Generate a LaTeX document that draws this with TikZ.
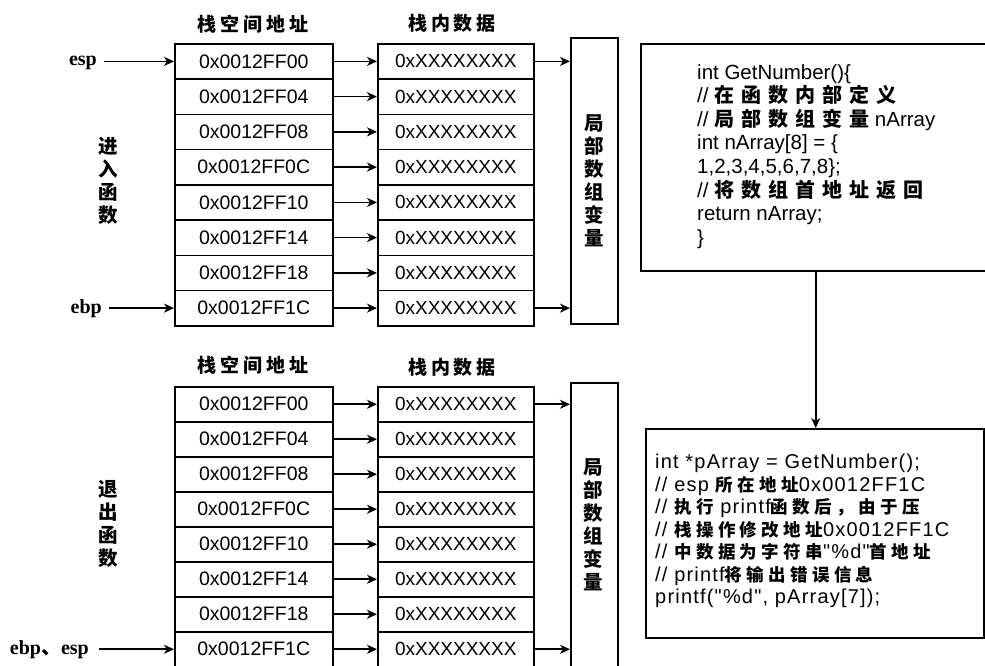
\documentclass[tikz,border=0pt]{standalone}
\usepackage{fontspec}
\setmainfont{Liberation Sans}
\newfontfamily\serifb{Liberation Serif}
\newfontfamily\latL[LetterSpace=6]{Liberation Sans}
\newfontfamily\zhH[LetterSpace=20]{Noto Sans CJK SC}
\newfontfamily\zhT[LetterSpace=35]{Noto Sans CJK SC}
\newfontfamily\zhL[LetterSpace=25]{Noto Sans CJK SC}
\newfontfamily\zhV{Noto Sans CJK SC}
\usetikzlibrary{arrows.meta}
\newcommand{\ZhTop}[1]{{\zhT\bfseries\fontsize{20}{23.6}\selectfont #1}}
\newcommand{\ZhLow}[1]{{\zhL\bfseries\fontsize{17.5}{22.5}\selectfont #1}}
\newcommand{\dq}{\symbol{34}}
\begin{document}
\begin{tikzpicture}[x=1pt,y=-1pt,
  box/.style={draw, line width=1.5pt, inner sep=0pt, anchor=north west},
  acell/.style={box, minimum width=158pt, font=\fontsize{19.5}{22}\selectfont},
  dcell/.style={box, minimum width=156pt, font=\fontsize{19}{22}\selectfont},
  arr/.style={-{Stealth[length=10pt,width=9pt,inset=3pt]}, line width=1.7pt},
  head/.style={font=\zhH\bfseries\fontsize{19}{22}\selectfont, inner sep=0pt},
  vlab/.style={align=center, inner sep=0pt, font=\zhV\bfseries\fontsize{19.5}{23}\selectfont},
  reg/.style={inner sep=0pt, font=\serifb\bfseries\fontsize{20}{22}\selectfont},
  code/.style={align=left, inner sep=0pt, anchor=north west}]
\useasboundingbox (0,0) rectangle (985,665);
\clip (0,0) rectangle (985,665);
\fill[white] (0,0) rectangle (985,665);

% ---------- top stack ----------
\node[head] (thA) at (253,24) {栈空间地址};
\node[head] (thD) at (452,23) {栈内数据};
\foreach \i/\t in {1/00,2/04,3/08,4/0C,5/10,6/14,7/18,8/1C}{
  \node[acell, minimum height=35.25pt] (ta\i) at (174,{43+(\i-1)*35.25}) {0x0012FF\t};
  \node[dcell, minimum height=35.25pt] (td\i) at (377,{43+(\i-1)*35.25}) {0xXXXXXXXX};
  \draw[arr] (ta\i) -- (td\i);
}
\node[box, minimum width=47pt, minimum height=286pt] (tl) at (570,37) {};
\node[vlab] (tlt) at (tl.center) {局\\部\\数\\组\\变\\量};
\draw[arr] (td1.east) -- (td1.east -| tl.west);
\draw[arr] (td8.east) -- (td8.east -| tl.west);
\node[vlab] (enter) at (108,181) {进\\入\\函\\数};
\node[reg, anchor=east] (esp) at (97,63) {esp};
\node[reg, anchor=east] (ebp) at (102,309) {ebp};
\draw[arr, shorten <=7pt] (esp.east |- ta1.west) -- (ta1.west);
\draw[arr, shorten <=7pt] (ebp.east |- ta8.west) -- (ta8.west);

% ---------- bottom stack ----------
\node[head] (bhA) at (253,365) {栈空间地址};
\node[head] (bhD) at (452,367) {栈内数据};
\foreach \i/\t in {1/00,2/04,3/08,4/0C,5/10,6/14,7/18,8/1C}{
  \node[acell, minimum height=35pt] (ba\i) at (174,{386+(\i-1)*35}) {0x0012FF\t};
  \node[dcell, minimum height=35pt] (bd\i) at (377,{386+(\i-1)*35}) {0xXXXXXXXX};
  \draw[arr] (ba\i) -- (bd\i);
}
\node[box, minimum width=47pt, minimum height=300pt] (bl) at (570,382) {};
\node[vlab] (blt) at (593,525) {局\\部\\数\\组\\变\\量};
\draw[arr] (bd1.east) -- (bd1.east -| bl.west);
\draw[arr] (bd8.east) -- (bd8.east -| bl.west);
\node[vlab] (leave) at (108,524) {退\\出\\函\\数};
\node[reg, anchor=east] (ebpesp) at (89,650) {ebp{\zhV 、}esp};
\draw[arr, shorten <=10pt] (ebpesp.east |- ba8.west) -- (ba8.west);

% ---------- code boxes ----------
\node[box, minimum width=350pt, minimum height=227pt] (codeA) at (640,43) {};
\node[code, font=\fontsize{20.5}{23.6}\selectfont] (codeAt) at (697,64) {%
int GetNumber()\{\\
// \ZhTop{在函数内部定义}\\
// \ZhTop{局部数组变量} nArray\\
int nArray[8] = \{\\
1,2,3,4,5,6,7,8\};\\
// \ZhTop{将数组首地址返回}\\
return nArray;\\
\}};
\node[box, minimum width=338pt, minimum height=209pt] (codeB) at (645,428) {};
\node[code, font=\latL\fontsize{20}{22.5}\selectfont] (codeBt) at (655,454) {%
int *pArray = GetNumber();\\
// esp \ZhLow{所在地址}0x0012FF1C\\
// \ZhLow{执行} printf\ZhLow{函数后，由于压}\\
// \ZhLow{栈操作修改地址}0x0012FF1C\\
// \ZhLow{中数据为字符串}\dq\%d\dq\ZhLow{首地址}\\
// printf\ZhLow{将输出错误信息}\\
printf(\dq\%d\dq, pArray[7]);};
\draw[arr] (codeA.south) -- (codeA.south |- codeB.north);
\end{tikzpicture}
\end{document}
